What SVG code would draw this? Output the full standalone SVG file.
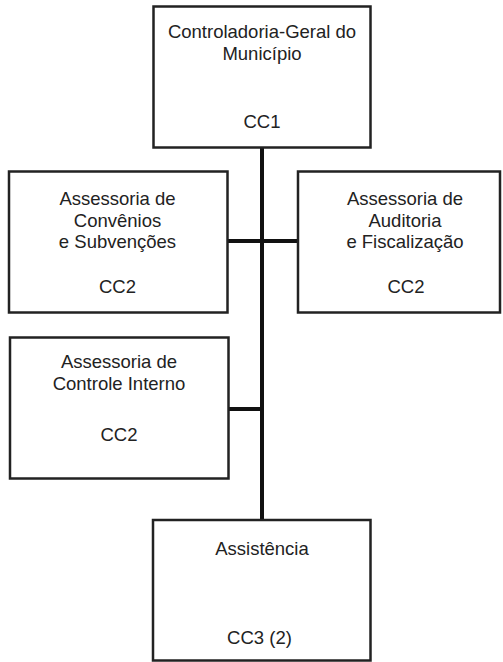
<svg xmlns="http://www.w3.org/2000/svg" width="503" height="662" viewBox="0 0 503 662">
<style>
.box{fill:#fff;stroke:#222;stroke-width:2.5}
.con{stroke:#111;stroke-width:4;fill:none}
text{font-family:"Liberation Sans",Arial,sans-serif;font-size:18.5px;fill:#222;text-anchor:middle}
</style>
<rect width="503" height="662" fill="#fff"/>
<g id="connectors">
<line class="con" x1="262" y1="147" x2="262" y2="521"/>
<line class="con" x1="227" y1="241" x2="299" y2="241"/>
<line class="con" x1="228" y1="409" x2="262" y2="409"/>
</g>
<g id="controladoria">
<rect class="box" x="153.5" y="6.5" width="217" height="141"/>
<text x="262" y="38">Controladoria-Geral do</text>
<text x="262" y="60">Município</text>
<text x="262" y="128">CC1</text>
</g>
<g id="convenios">
<rect class="box" x="9" y="171.5" width="218.5" height="141"/>
<text x="117.5" y="205">Assessoria de</text>
<text x="117.5" y="227">Convênios</text>
<text x="117.5" y="248">e Subvenções</text>
<text x="117.5" y="293">CC2</text>
</g>
<g id="auditoria">
<rect class="box" x="298" y="171.5" width="202" height="141"/>
<text x="405" y="205">Assessoria de</text>
<text x="405" y="227">Auditoria</text>
<text x="405" y="248">e Fiscalização</text>
<text x="406" y="293">CC2</text>
</g>
<g id="controle">
<rect class="box" x="10" y="337.5" width="218.5" height="141"/>
<text x="119" y="368">Assessoria de</text>
<text x="119" y="390">Controle Interno</text>
<text x="119" y="441">CC2</text>
</g>
<g id="assistencia">
<rect class="box" x="153" y="520" width="217.5" height="140.5"/>
<text x="262" y="555">Assistência</text>
<text x="259.5" y="644">CC3 (2)</text>
</g>
</svg>
